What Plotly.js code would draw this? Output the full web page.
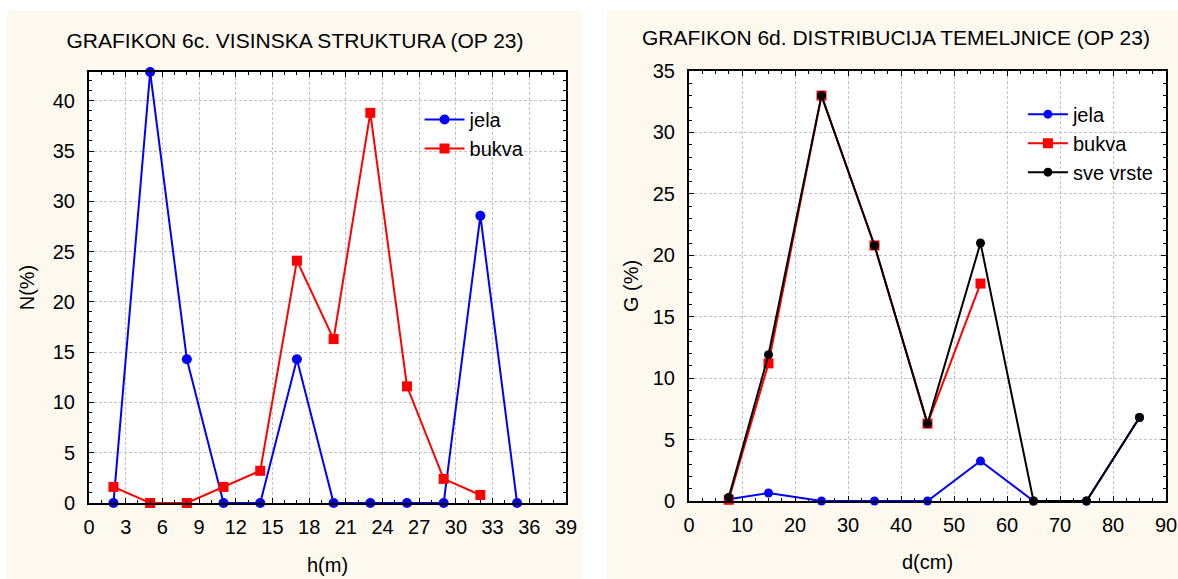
<!DOCTYPE html>
<html>
<head>
<meta charset="utf-8">
<script src="https://cdn.plot.ly/plotly-3.0.1.min.js"></script>
<style>
  html, body { margin: 0; padding: 0; background: #ffffff; width: 1178px; height: 579px; overflow: hidden; }
  #c1 { position: absolute; left: 7px; top: 11px; width: 576px; height: 568px; }
  #c2 { position: absolute; left: 607px; top: 10px; width: 571px; height: 569px; }
</style>
</head>
<body>
<div id="c1"></div>
<div id="c2"></div>
<script>
// ---- Chart 6c: height structure ----
const hClasses = [2, 5, 8, 11, 14, 17, 20, 23, 26, 29, 32, 35];
const jelaN = [0, 42.86, 14.29, 0, 0, 14.29, 0, 0, 0, 0, 28.57, 0];
const bukvaH = [2, 5, 8, 11, 14, 17, 20, 23, 26, 29, 32];
const bukvaN = [1.6, 0, 0, 1.6, 3.2, 24.1, 16.3, 38.8, 11.6, 2.4, 0.8];
const hTicks = [0, 3, 6, 9, 12, 15, 18, 21, 24, 27, 30, 33, 36, 39];
const nTicks = [0, 5, 10, 15, 20, 25, 30, 35, 40];

// ---- Chart 6d: basal area distribution ----
const dClasses = [7.5, 15, 25, 35, 45, 55, 65, 75, 85];
const jelaG = [0.15, 0.65, 0, 0, 0, 3.25, 0, 0, 6.8];
const bukvaD = [7.5, 15, 25, 35, 45, 55];
const bukvaG = [0.1, 11.2, 33.0, 20.8, 6.3, 17.7];
const sveG = [0.3, 11.9, 33.0, 20.8, 6.3, 21.0, 0, 0, 6.8];
const dTicks = [0, 10, 20, 30, 40, 50, 60, 70, 80, 90];
const gTicks = [0, 5, 10, 15, 20, 25, 30, 35];

const FONT = 'Liberation Sans, Arial, sans-serif';
const CREAM = '#fef9ef';

function axisBase(extra) {
  return Object.assign({
    showline: true, linecolor: '#000000', linewidth: 2, mirror: 'allticks',
    ticks: 'inside', ticklen: 5, tickwidth: 1, tickcolor: '#000000',
    showgrid: true, gridcolor: '#c4c4c4', gridwidth: 1, griddash: '3px,2px',
    zeroline: false, tickfont: { family: FONT, size: 20, color: '#000000' },
    fixedrange: true
  }, extra);
}

const layout1 = {
  paper_bgcolor: CREAM, plot_bgcolor: '#ffffff',
  margin: { l: 82, r: 17, t: 61, b: 76 },
  width: 576, height: 568,
  font: { family: FONT, size: 20, color: '#000000' },
  title: { text: 'GRAFIKON 6c. VISINSKA STRUKTURA (OP 23)', font: { family: FONT, size: 21, color: '#000000' },
           x: 0.5, xanchor: 'center', y: 0.947, yanchor: 'middle' },
  xaxis: axisBase({ range: [0, 39], tickmode: 'array', tickvals: hTicks, ticktext: hTicks.map(String),
    minor: { dtick: 1, ticks: 'inside', ticklen: 3, tickcolor: '#000000', showgrid: false },
    ticklabelstandoff: 5,
    title: { text: 'h(m)', font: { family: FONT, size: 20 }, standoff: 21 } }),
  yaxis: axisBase({ range: [0, 42.86], tickmode: 'array', tickvals: nTicks, ticktext: nTicks.map(String),
    minor: { dtick: 1, ticks: 'inside', ticklen: 3, tickcolor: '#000000', showgrid: false },
    ticklabelstandoff: 8,
    title: { text: 'N(%)', font: { family: FONT, size: 20 }, standoff: 13 } }),
  showlegend: true,
  legend: { x: 0.693, y: 0.935, xanchor: 'left', yanchor: 'top', bgcolor: 'rgba(0,0,0,0)', borderwidth: 0,
            font: { family: FONT, size: 20, color: '#000000' }, itemwidth: 40, tracegroupgap: 0 }
};

const traces1 = [
  { x: hClasses, y: jelaN, name: 'jela', type: 'scatter', mode: 'lines+markers', cliponaxis: false,
    line: { color: '#0000ff', width: 2 }, marker: { symbol: 'circle', size: 10, color: '#0000ff' } },
  { x: bukvaH, y: bukvaN, name: 'bukva', type: 'scatter', mode: 'lines+markers', cliponaxis: false,
    line: { color: '#ff0000', width: 2 }, marker: { symbol: 'square', size: 10, color: '#ff0000' } }
];

const layout2 = {
  paper_bgcolor: CREAM, plot_bgcolor: '#ffffff',
  margin: { l: 82, r: 12, t: 61, b: 78 },
  width: 571, height: 569,
  font: { family: FONT, size: 20, color: '#000000' },
  title: { text: 'GRAFIKON 6d. DISTRIBUCIJA TEMELJNICE (OP 23)', font: { family: FONT, size: 21, color: '#000000' },
           x: 0.506, xanchor: 'center', y: 0.951, yanchor: 'middle' },
  xaxis: axisBase({ range: [0, 90], tickmode: 'array', tickvals: dTicks, ticktext: dTicks.map(String),
    minor: { dtick: 2.5, ticks: 'inside', ticklen: 3, tickcolor: '#000000', showgrid: false },
    ticklabelstandoff: 5,
    title: { text: 'd(cm)', font: { family: FONT, size: 20 }, standoff: 20 } }),
  yaxis: axisBase({ range: [0, 35], tickmode: 'array', tickvals: gTicks, ticktext: gTicks.map(String),
    minor: { dtick: 1, ticks: 'inside', ticklen: 3, tickcolor: '#000000', showgrid: false },
    ticklabelstandoff: 8,
    title: { text: 'G (%)', font: { family: FONT, size: 20 }, standoff: 9 } }),
  showlegend: true,
  legend: { x: 0.70, y: 0.945, xanchor: 'left', yanchor: 'top', bgcolor: 'rgba(0,0,0,0)', borderwidth: 0,
            font: { family: FONT, size: 20, color: '#000000' }, itemwidth: 40, tracegroupgap: 0 }
};

const traces2 = [
  { x: dClasses, y: jelaG, name: 'jela', type: 'scatter', mode: 'lines+markers', cliponaxis: false,
    line: { color: '#0000ff', width: 2 }, marker: { symbol: 'circle', size: 9, color: '#0000ff' } },
  { x: bukvaD, y: bukvaG, name: 'bukva', type: 'scatter', mode: 'lines+markers', cliponaxis: false,
    line: { color: '#ff0000', width: 2 }, marker: { symbol: 'square', size: 10, color: '#ff0000' } },
  { x: dClasses, y: sveG, name: 'sve vrste', type: 'scatter', mode: 'lines+markers', cliponaxis: false,
    line: { color: '#000000', width: 2 }, marker: { symbol: 'circle', size: 9, color: '#000000' } }
];

const cfg = { displayModeBar: false, staticPlot: true };
Plotly.newPlot('c1', traces1, layout1, cfg);
Plotly.newPlot('c2', traces2, layout2, cfg);
</script>
</body>
</html>
